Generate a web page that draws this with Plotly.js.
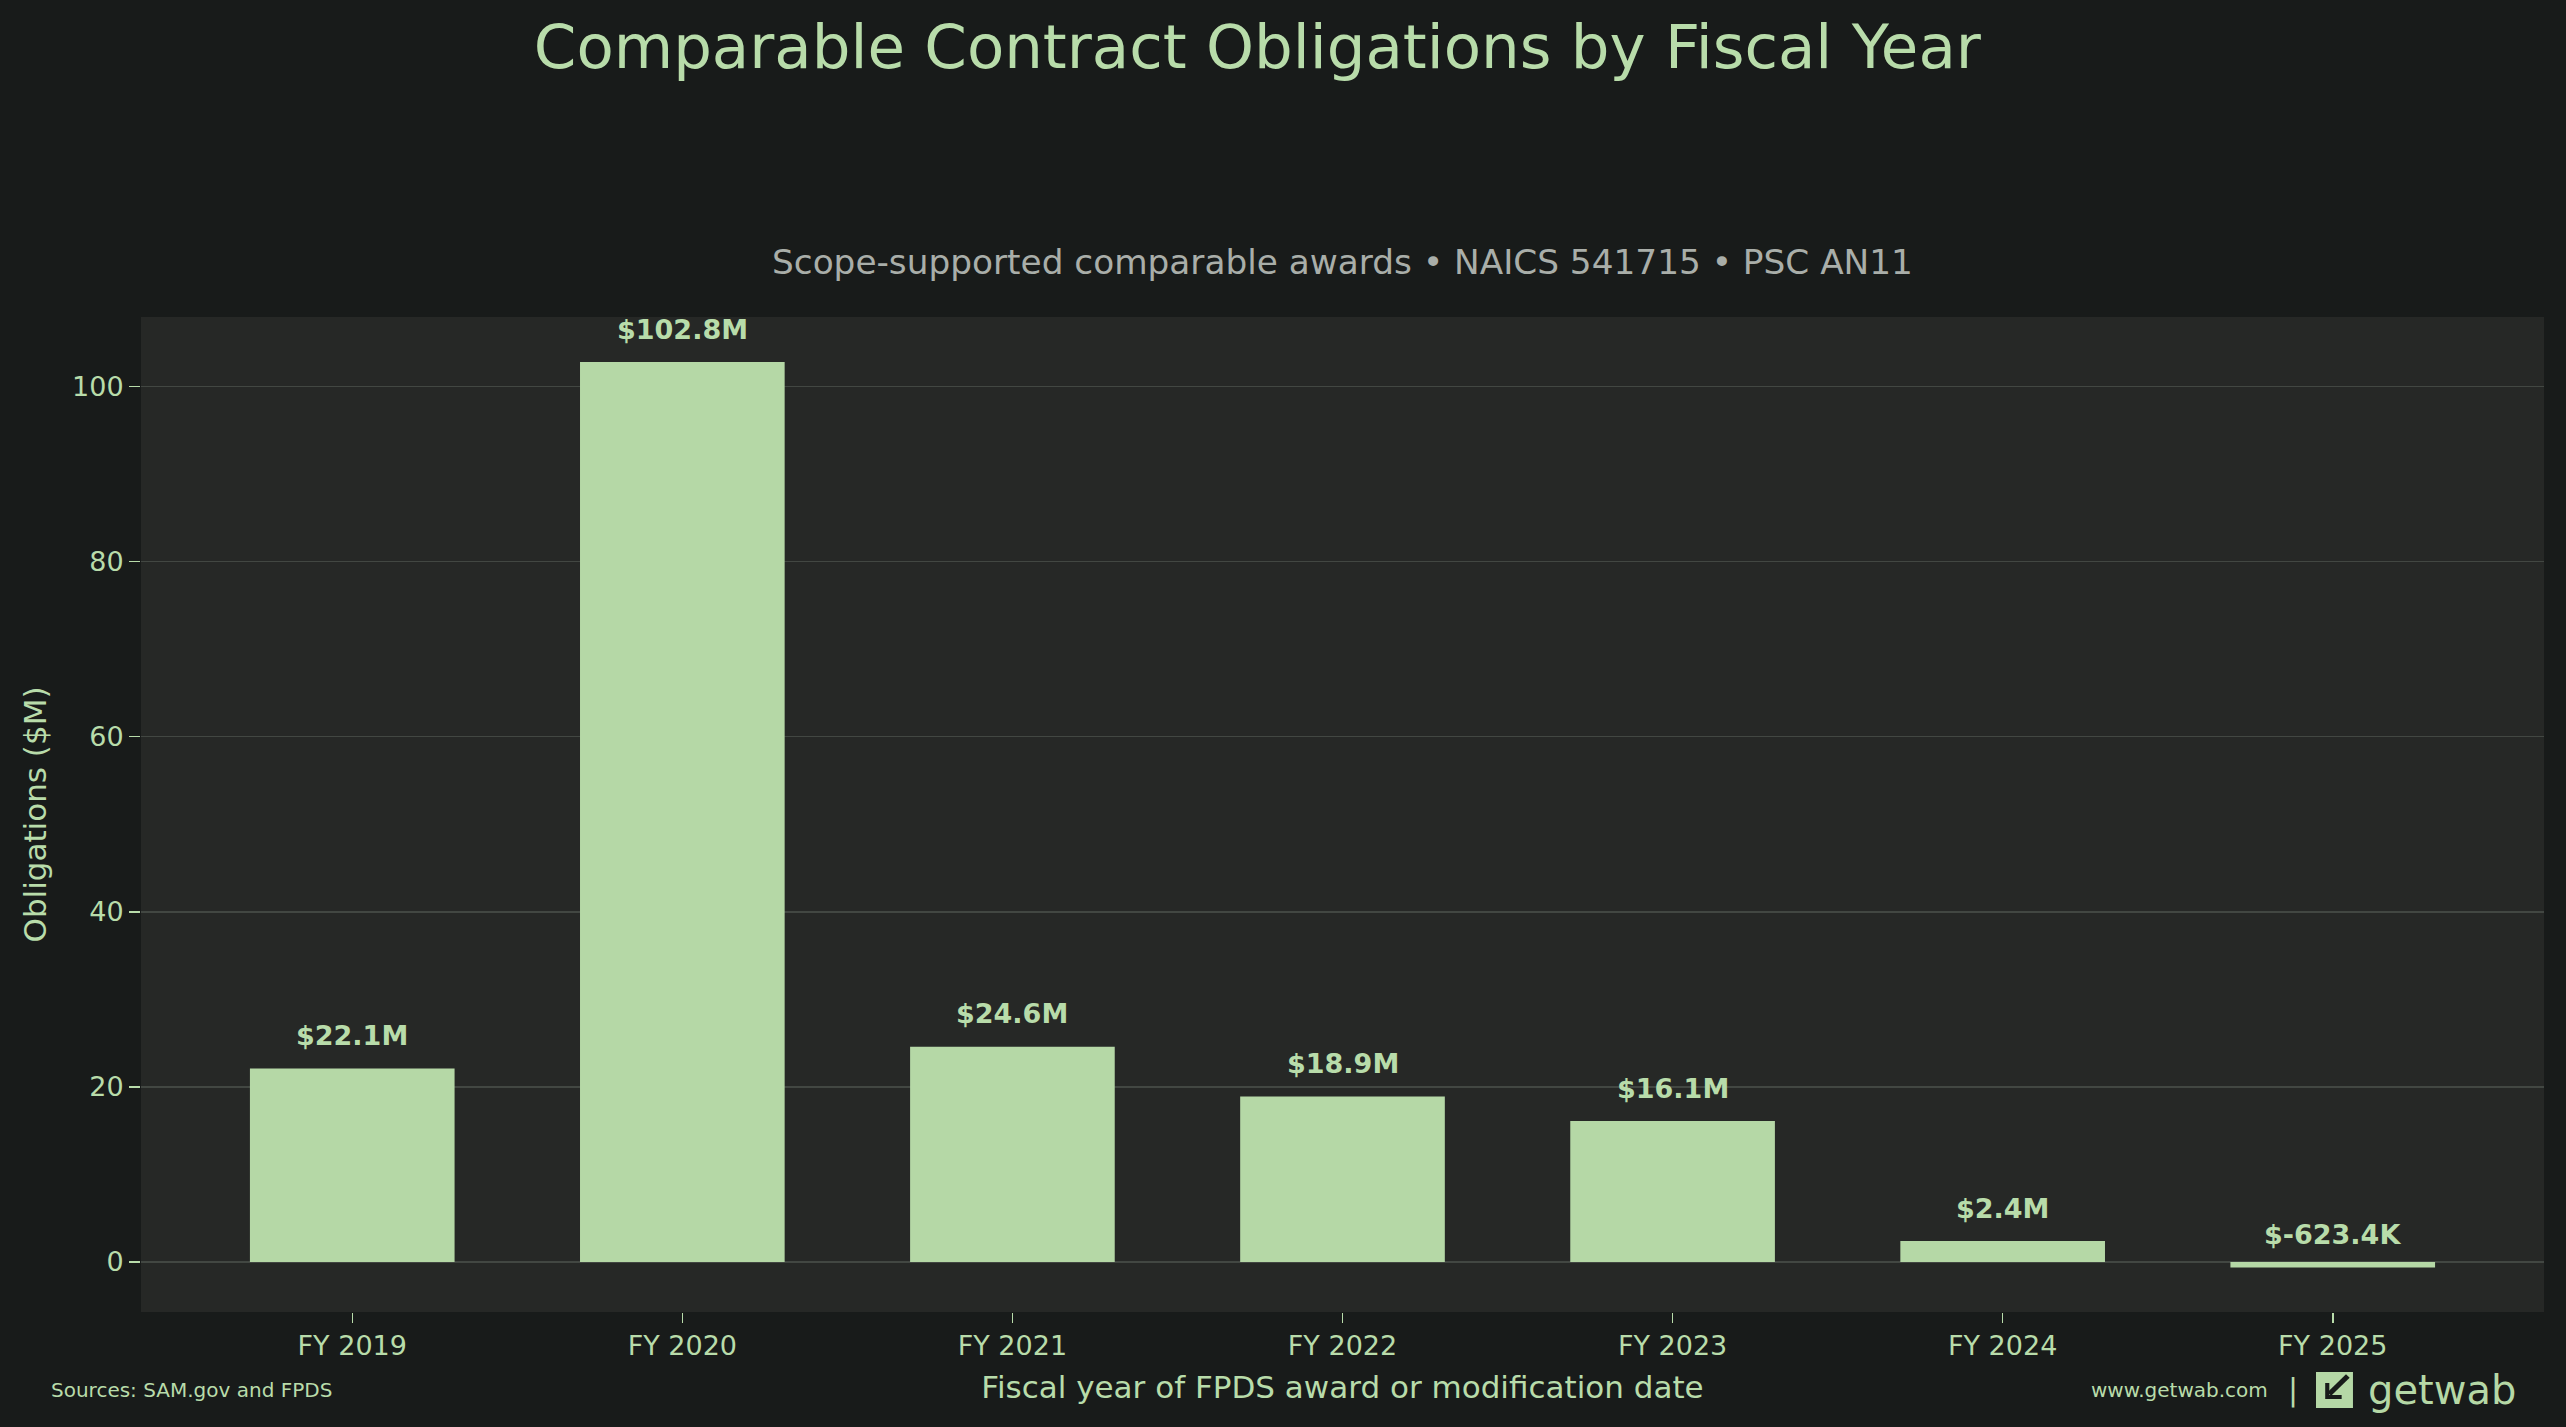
<!DOCTYPE html>
<html>
<head>
<meta charset="utf-8">
<script src="https://cdn.plot.ly/plotly-3.0.1.min.js"></script>
<style>
  html, body { margin: 0; padding: 0; background: #181b1a; }
  #chart { width: 2566px; height: 1427px; }
</style>
</head>
<body>
<div id="chart"></div>
<script>
// ---- data ----
const fiscalYears = ["FY 2019", "FY 2020", "FY 2021", "FY 2022", "FY 2023", "FY 2024", "FY 2025"];
const obligationsM = [22.1, 102.8, 24.6, 18.9, 16.1, 2.4, -0.6234];
const yTickValues = [0, 20, 40, 60, 80, 100];

const chartTitle = "Comparable Contract Obligations by Fiscal Year";
const chartSubtitle = "Scope-supported comparable awards • NAICS 541715 • PSC AN11";
const xTitle = "Fiscal year of FPDS award or modification date";
const yTitle = "Obligations ($M)";
const sourceNote = "Sources: SAM.gov and FPDS";
const siteNote = "www.getwab.com";
const brandName = "getwab";

// ---- styling ----
const BG = "#181b1a";
const PLOT_BG = "#262826";
const BAR = "#b5d8a6";
const TEXT = "#b8dcaa";
const SUB = "#a9aea9";
const GRID = "#424742";
const FONT = "DejaVu Sans, Verdana, sans-serif";

function fmtLabel(v) {
  if (Math.abs(v) < 1) return "$" + (v * 1000).toFixed(1) + "K";
  return "$" + v.toFixed(1) + "M";
}

const trace = {
  type: "bar",
  x: fiscalYears,
  y: obligationsM,
  width: 0.62,
  marker: { color: BAR, line: { width: 0 } },
  hoverinfo: "x+y"
};

const barLabels = fiscalYears.map((fy, i) => ({
  x: fy,
  y: obligationsM[i],
  xref: "x", yref: "y",
  text: "<b>" + fmtLabel(obligationsM[i]) + "</b>",
  showarrow: false,
  yanchor: "middle",
  yshift: 33,
  font: { family: FONT, size: 27, color: TEXT }
}));

const logoSvg =
  '<svg xmlns="http://www.w3.org/2000/svg" width="36" height="36" viewBox="0 0 36 36">' +
  '<rect width="36" height="36" fill="' + BAR + '"/>' +
  '<path d="M31 4 L13 22" stroke="' + BG + '" stroke-width="5" fill="none"/>' +
  '<path d="M11 11 L11 25 L25 25" stroke="' + BG + '" stroke-width="4" fill="none"/>' +
  '</svg>';
const logoUri = "data:image/svg+xml;base64," + btoa(logoSvg);

const FOOT_Y = -0.0784;

const layout = {
  width: 2566,
  height: 1427,
  paper_bgcolor: BG,
  plot_bgcolor: PLOT_BG,
  margin: { l: 141, r: 22, t: 317, b: 115, pad: 0 },
  font: { family: FONT, color: TEXT },
  showlegend: false,
  bargap: 0.38,
  title: {
    text: chartTitle,
    font: { family: FONT, size: 61, color: TEXT },
    xref: "container", x: 0.49, xanchor: "center",
    yref: "container", y: 0.967, yanchor: "middle"
  },
  xaxis: {
    type: "category",
    range: [-0.64, 6.64],
    showgrid: false,
    zeroline: false,
    showline: false,
    ticks: "outside",
    ticklen: 10,
    tickwidth: 1.5,
    tickcolor: TEXT,
    tickfont: { family: FONT, size: 27, color: TEXT },
    title: { text: xTitle, font: { family: FONT, size: 31, color: TEXT }, standoff: 15 },
    automargin: false
  },
  yaxis: {
    range: [-5.71, 107.94],
    tickvals: yTickValues,
    showgrid: true,
    gridcolor: GRID,
    gridwidth: 1.5,
    zeroline: true,
    zerolinecolor: GRID,
    zerolinewidth: 1.5,
    showline: false,
    ticks: "outside",
    ticklen: 11,
    tickwidth: 1.5,
    tickcolor: TEXT,
    tickfont: { family: FONT, size: 27, color: TEXT },
    title: { text: yTitle, font: { family: FONT, size: 31, color: TEXT }, standoff: 16 },
    automargin: false
  },
  annotations: barLabels.concat([
    {
      text: chartSubtitle,
      xref: "paper", yref: "paper", x: 0.5, y: 1.055,
      xanchor: "center", yanchor: "middle", showarrow: false,
      font: { family: FONT, size: 34.3, color: SUB }
    },
    {
      text: sourceNote,
      xref: "paper", yref: "paper", x: -0.0384, y: FOOT_Y,
      xanchor: "left", yanchor: "middle", showarrow: false,
      font: { family: FONT, size: 20, color: TEXT }
    },
    {
      text: siteNote,
      xref: "paper", yref: "paper", x: 0.886, y: FOOT_Y,
      xanchor: "right", yanchor: "middle", showarrow: false,
      font: { family: FONT, size: 20, color: TEXT }
    },
    {
      text: "|",
      xref: "paper", yref: "paper", x: 0.8955, y: FOOT_Y,
      xanchor: "center", yanchor: "middle", showarrow: false,
      font: { family: FONT, size: 30, color: TEXT }
    },
    {
      text: brandName,
      xref: "paper", yref: "paper", x: 0.9258, y: FOOT_Y,
      xanchor: "left", yanchor: "middle", showarrow: false,
      font: { family: FONT, size: 40, color: BAR }
    }
  ]),
  images: [
    {
      source: logoUri,
      xref: "paper", yref: "paper",
      x: 0.9051, y: -0.0603,
      sizex: 0.0154, sizey: 0.0362,
      xanchor: "left", yanchor: "top",
      sizing: "stretch", layer: "above"
    }
  ]
};

Plotly.newPlot("chart", [trace], layout, { displayModeBar: false, staticPlot: true });
</script>
</body>
</html>
